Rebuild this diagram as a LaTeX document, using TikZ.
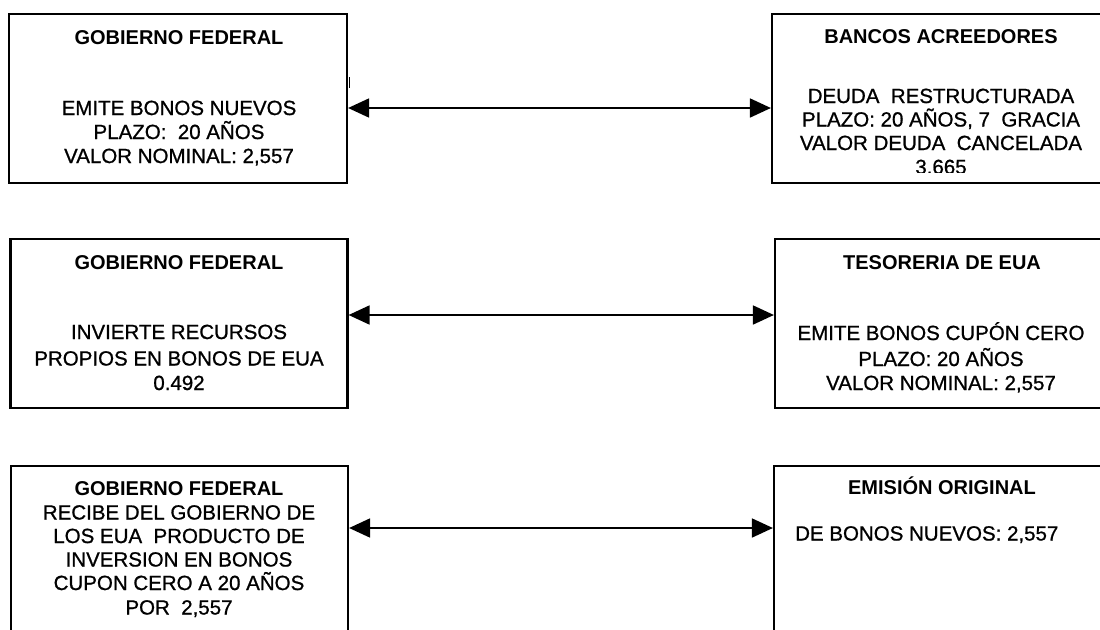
\documentclass[tikz,border=0pt]{standalone}
\usepackage{fontspec}
\setmainfont{Liberation Sans}
\newfontfamily\heavybody[FakeBold=0.9]{Liberation Sans}
\usetikzlibrary{arrows.meta}
\begin{document}
\begin{tikzpicture}[x=1pt,y=-1pt,
  box/.style={draw=black, line width=2.2pt, rectangle, inner sep=0pt},
  ttl/.style={anchor=base, inner sep=0pt, font=\fontsize{20}{24}\selectfont\bfseries},
  txt/.style={anchor=base, inner sep=0pt, font=\heavybody\fontsize{20.5}{24}\selectfont},
  link/.style={line width=1.8pt, {Triangle[length=21pt,width=19pt]}-{Triangle[length=21pt,width=19pt]}}
]
\clip (0,0) rectangle (1100,629);
\fill[white] (0,0) rectangle (1100,629);

% boxes
\node[box, minimum width=338pt, minimum height=169pt] (b1) at (178,98.5) {};
\node[box, minimum width=338pt, minimum height=169pt] (b2) at (941,98.5) {};
\node[box, minimum width=337pt, minimum height=169pt] (b3) at (179,323.5) {};
\node[box, minimum width=335pt, minimum height=169pt] (b4) at (942.5,323.5) {};
\node[box, minimum width=337pt, minimum height=194pt] (b5) at (179.5,563) {};
\node[box, minimum width=336pt, minimum height=194pt] (b6) at (942,563) {};

% small mark
\draw[line width=1.5pt] (349.5,77) -- (349.5,88);

% top-left
\node[ttl] (t1) at (179,44) {GOBIERNO FEDERAL};
\node[txt] (t1a) at (179,115) {EMITE BONOS NUEVOS};
\node[txt] (t1b) at (179,139) {PLAZO:\ \ 20 AÑOS};
\node[txt] (t1c) at (179,163) {VALOR NOMINAL: 2,557};

% top-right
\node[ttl] (t2) at (941,43) {BANCOS ACREEDORES};
\node[txt] (t2a) at (941,103) {DEUDA\ \ RESTRUCTURADA};
\node[txt] (t2b) at (941,126.5) {PLAZO: 20 AÑOS, 7\ \ GRACIA};
\node[txt] (t2c) at (941,150) {VALOR DEUDA\ \ CANCELADA};
\begin{scope}
\clip (772,155) rectangle (1110,172);
\node[txt] (t2d) at (941,174) {3,665};
\end{scope}

% middle-left
\node[ttl] (t3) at (179,269) {GOBIERNO FEDERAL};
\node[txt] (t3a) at (179,339) {INVIERTE RECURSOS};
\node[txt] (t3b) at (179,365.5) {PROPIOS EN BONOS DE EUA};
\node[txt] (t3c) at (179,390) {0.492};

% middle-right
\node[ttl] (t4) at (942,269) {TESORERIA DE EUA};
\node[txt] (t4a) at (941,340) {EMITE BONOS CUPÓN CERO};
\node[txt] (t4b) at (941,366) {PLAZO: 20 AÑOS};
\node[txt] (t4c) at (941,390) {VALOR NOMINAL: 2,557};

% bottom-left
\node[ttl] (t5) at (179,495.5) {GOBIERNO FEDERAL};
\node[txt] (t5a) at (179,519.5) {RECIBE DEL GOBIERNO DE};
\node[txt] (t5b) at (179,543) {LOS EUA\ \ PRODUCTO DE};
\node[txt] (t5c) at (179,566.5) {INVERSION EN BONOS};
\node[txt] (t5d) at (179,590) {CUPON CERO A 20 AÑOS};
\node[txt] (t5e) at (179,614.5) {POR\ \ 2,557};

% bottom-right
\node[ttl] (t6) at (942,494) {EMISIÓN ORIGINAL};
\node[txt, anchor=base west] (t6a) at (795,540.5) {DE BONOS NUEVOS: 2,557};

% connectors
\draw[link] (b1.east |- 0,108) -- (b2.west |- 0,108);
\draw[link] (b3.east |- 0,315) -- (b4.west |- 0,315);
\draw[link] (b5.east |- 0,528) -- (b6.west |- 0,528);
\end{tikzpicture}
\end{document}
